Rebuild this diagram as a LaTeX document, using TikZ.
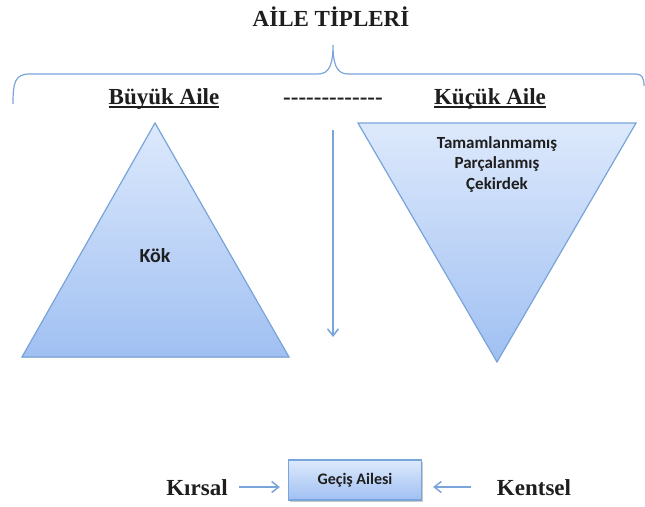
\documentclass[tikz,border=0pt]{standalone}
\usepackage{fontspec}
\setmainfont{Liberation Serif}
\newfontfamily\calfont{Carlito}
\usetikzlibrary{arrows.meta,shadows}
\definecolor{edgeblue}{HTML}{79A5DA}
\definecolor{topc}{HTML}{DDE9FC}
\definecolor{botc}{HTML}{A0C0F2}
\definecolor{txt}{HTML}{1E1E1E}
\newcommand{\hy}{\mbox{-}}
\begin{document}
\begin{tikzpicture}[x=1pt,y=-1pt,
  serifbold/.style={font=\fontsize{23}{26}\selectfont\bfseries, text=txt, inner sep=0pt, anchor=base},
  sanslabel/.style={font=\calfont\fontsize{17}{20.5}\selectfont\bfseries, text=txt, align=center, inner sep=0pt},
  tri/.style={draw=edgeblue, line width=1.2pt, top color=topc, bottom color=botc, line join=miter},
  uline/.style={draw=txt, line width=1.3pt},
  conn/.style={draw=edgeblue, line width=1.5pt, -{Straight Barb[length=7pt,width=11pt,line width=1.5pt]}},
  boxstyle/.style={draw=edgeblue, line width=1.2pt, top color=topc, bottom color=botc,
    minimum width=133pt, minimum height=40pt, inner sep=0pt,
    drop shadow={shadow xshift=1.5pt, shadow yshift=-2pt, fill=black!35, opacity=0.6}}
]
\useasboundingbox (0,0) rectangle (645,506);

% title
\node[serifbold] (title) at (331,26) {AİLE TİPLERİ};

% brace
\draw[edgeblue, line width=1.2pt] (13,104) .. controls (13,82) and (15,74) .. (30,74) -- (318,74)
  .. controls (330,74) and (333,63) .. (333,45)
  .. controls (333,63) and (336,74) .. (348,74) -- (636,74)
  .. controls (642,74) and (644,78) .. (644,86);

% headings
\node[serifbold] (buyuk) at (164,104) {Büyük Aile};
\draw[uline] ([yshift=-3pt]buyuk.base west) -- ([yshift=-3pt]buyuk.base east);
\node[serifbold] (dashes) at (333,104) {\hy\hy\hy\hy\hy\hy\hy\hy\hy\hy\hy\hy\hy};
\node[serifbold] (kucuk) at (490,104) {Küçük Aile};
\draw[uline] ([yshift=-3pt]kucuk.base west) -- ([yshift=-3pt]kucuk.base east);

% left triangle
\filldraw[tri] (155,123) -- (289,357) -- (22,357) -- cycle;
\node[sanslabel, font=\calfont\fontsize{20}{22}\selectfont\bfseries] (kok) at (155,256) {Kök};

% right triangle
\filldraw[tri] (358,123) -- (636,123) -- (497,362) -- cycle;
\node[sanslabel] (kucukt) at (497,164) {Tamamlanmamış\\Parçalanmış\\Çekirdek};

% vertical arrow
\coordinate (vtop) at (333,130);
\coordinate (vbot) at (333,337);
\draw[conn] (vtop) -- (vbot);

% bottom
\node[boxstyle, sanslabel, font=\calfont\fontsize{16}{18}\selectfont\bfseries] (gecis) at (355,480) {Geçiş Ailesi};
\node[serifbold] (kirsal) at (197,495) {Kırsal};
\node[serifbold] (kentsel) at (534,495) {Kentsel};
\coordinate (ka) at (239,487);
\coordinate (kb) at (471,487);
\draw[conn] (ka) -- ([xshift=-8pt]ka -| gecis.west);
\draw[conn] (kb) -- ([xshift=11pt]kb -| gecis.east);
\end{tikzpicture}
\end{document}
